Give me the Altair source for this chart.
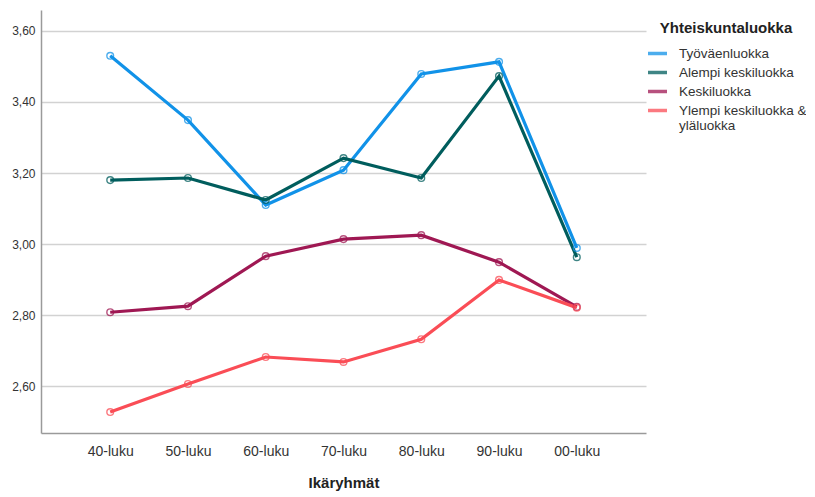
import altair as alt
import pandas as pd

categories = ["40-luku", "50-luku", "60-luku", "70-luku", "80-luku", "90-luku", "00-luku"]
series_names = ["Työväenluokka", "Alempi keskiluokka", "Keskiluokka", "Ylempi keskiluokka & yläluokka"]
tyovaenluokka = [3.530, 3.349, 3.110, 3.208, 3.479, 3.513, 2.989]
alempi = [3.180, 3.186, 3.124, 3.242, 3.186, 3.473, 2.963]
keski = [2.808, 2.825, 2.966, 3.014, 3.025, 2.949, 2.823]
ylempi = [2.527, 2.606, 2.682, 2.668, 2.732, 2.899, 2.821]
colors = ["#1192e8", "#005d5d", "#9f1853", "#fa4d56"]
y_ticks = [2.6, 2.8, 3.0, 3.2, 3.4, 3.6]

rows = []
for name, vals in zip(series_names, [tyovaenluokka, alempi, keski, ylempi]):
    for c, v in zip(categories, vals):
        rows.append({"Ikäryhmät": c, "Yhteiskuntaluokka": name, "arvo": v})
df = pd.DataFrame(rows)

FONT = "Liberation Sans"

x = alt.X("Ikäryhmät:N", sort=categories,
          scale=alt.Scale(type="point", padding=0.89),
          axis=alt.Axis(title="Ikäryhmät", labelAngle=0, ticks=False, grid=False,
                        domainColor="#9a9a9a", domainWidth=1.5,
                        labelFontSize=14, labelColor="#333333", labelPadding=11,
                        titleFontSize=15, titleFontWeight="bold", titleColor="#222222",
                        titlePadding=17))
y = alt.Y("arvo:Q", scale=alt.Scale(domain=[2.468, 3.659], nice=False, zero=False),
          axis=alt.Axis(title=None, values=y_ticks, ticks=False, grid=True,
                        gridColor="#d2d2d2", gridWidth=1.5,
                        domainColor="#9a9a9a", domainWidth=1.5,
                        labelExpr="replace(format(datum.value, '.2f'), '.', ',')",
                        labelFontSize=12, labelColor="#333333", labelPadding=6))
color = alt.Color("Yhteiskuntaluokka:N",
                  scale=alt.Scale(domain=series_names, range=colors),
                  legend=alt.Legend(title="Yhteiskuntaluokka", orient="none",
                                    legendX=605, legendY=11,
                                    symbolType="stroke", symbolStrokeWidth=3.5, symbolSize=361,
                                    titleFontSize=15, titleFontWeight="bold", titleColor="#222222",
                                    titleAnchor="middle", titlePadding=6,
                                    labelFontSize=13.5, labelColor="#333333", labelOffset=10,
                                    labelLimit=300, rowPadding=0,
                                    labelExpr="datum.label == 'Ylempi keskiluokka & yläluokka' ? ['Ylempi keskiluokka &', 'yläluokka'] : datum.label"))

base = alt.Chart(df).encode(x=x, y=y, color=color)
lines = base.mark_line(strokeWidth=3.2)
points = base.mark_point(shape="circle", size=45, filled=False, strokeWidth=1.4, opacity=0.75)

chart = (lines + points).properties(
    width=605, height=423,
    autosize=alt.AutoSizeParams(type="none"),
    padding={"left": 33, "top": 2, "right": 160, "bottom": 62},
).configure(font=FONT).configure_view(stroke=None)

chart.save("out.html", embed_options={"renderer": "svg", "actions": False})
